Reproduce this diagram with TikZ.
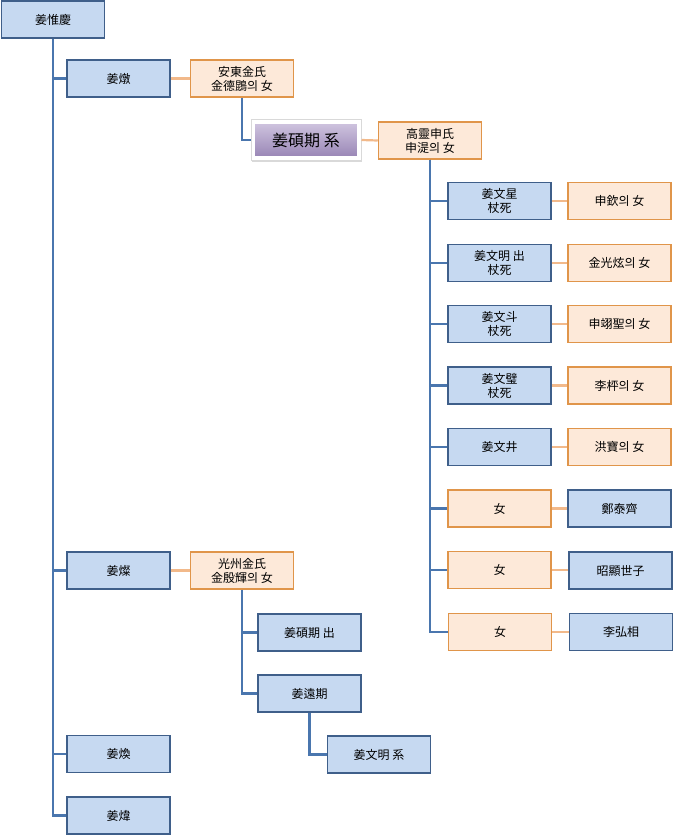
\documentclass[tikz,border=0pt]{standalone}
\usepackage{fontspec}
\setmainfont{Noto Sans CJK KR}
\usetikzlibrary{shadows}
\definecolor{bfill}{HTML}{C6D9F1}
\definecolor{bdraw}{HTML}{3F5F8A}
\definecolor{ofill}{HTML}{FDE9D9}
\definecolor{odraw}{HTML}{E0954A}
\definecolor{bline}{HTML}{4A76AE}
\definecolor{oline}{HTML}{F2B98A}
\definecolor{ptop}{HTML}{CFC4DF}
\definecolor{pmid}{HTML}{BDAED3}
\definecolor{pbot}{HTML}{9885B5}
\begin{document}
\begin{tikzpicture}[x=1pt,y=-1pt,
  box/.style={rectangle, minimum width=103pt, minimum height=37pt, inner sep=1pt, align=center, font=\fontsize{12}{14}\selectfont, line width=1.5pt},
  bbox/.style={box, fill=bfill, draw=bdraw},
  obox/.style={box, fill=ofill, draw=odraw},
  bl/.style={draw=bline, line width=2.2pt},
  ol/.style={draw=oline, line width=2.2pt}]
\useasboundingbox (0,0) rectangle (675,836);
% nodes
\node[bbox] (root) at (53,19.5) {姜惟慶};
\node[bbox] (don) at (118.5,78.5) {姜燉};
\node[obox] (andong) at (242,78.5) {安東金氏\\金德鵾의 女};
\node[rectangle, minimum width=110pt, minimum height=41pt, draw=black!15, line width=1pt,
  fill=white, drop shadow={opacity=0.3, shadow xshift=1pt, shadow yshift=-1.5pt}] (skglow) at (306,140) {};
\node[rectangle, minimum width=104pt, minimum height=35pt, draw=white, line width=2.5pt,
  top color=ptop, middle color=pmid, bottom color=pbot,
  font=\fontsize{16}{18}\selectfont] (sk) at (306,140) {姜碩期 系};
\node[obox] (goryeong) at (430,140.5) {高靈申氏\\申湜의 女};
% children of 姜碩期
\node[bbox] (s1) at (499.5,201) {姜文星\\杖死};
\node[obox] (w1) at (619.5,201) {申欽의 女};
\node[bbox] (s2) at (499.5,263) {姜文明 出\\杖死};
\node[obox] (w2) at (619.5,263) {金光炫의 女};
\node[bbox] (s3) at (499.5,324) {姜文斗\\杖死};
\node[obox] (w3) at (619.5,324) {申翊聖의 女};
\node[bbox] (s4) at (499.5,385.5) {姜文璧\\杖死};
\node[obox] (w4) at (619.5,385.5) {李枰의 女};
\node[bbox] (s5) at (499.5,447) {姜文井};
\node[obox] (w5) at (619.5,447) {洪寶의 女};
\node[obox] (d1) at (499.5,508.5) {女};
\node[bbox] (h1) at (619.5,508.5) {鄭泰齊};
\node[obox] (d2) at (499.5,570) {女};
\node[bbox] (h2) at (620.5,570.5) {昭顯世子};
\node[obox] (d3) at (500,632) {女};
\node[bbox] (h3) at (621,632) {李弘相};
% 姜燦 branch
\node[bbox] (chan) at (118.5,570.5) {姜燦};
\node[obox] (gwangju) at (242,570.5) {光州金氏\\金殷輝의 女};
\node[bbox] (skc) at (309.5,632.5) {姜碩期 出};
\node[bbox] (yw) at (309.5,693.5) {姜遠期};
\node[bbox] (mm) at (379,754.5) {姜文明 系};
\node[bbox] (hwan) at (118.5,754) {姜煥};
\node[bbox] (wi) at (118.5,815.5) {姜煒};
% connectors
\draw[bl] (root.south) |- (don.west);
\draw[bl] (root.south) |- (chan.west);
\draw[bl] (root.south) |- (hwan.west);
\draw[bl] (root.south) |- (wi.west);
\draw[ol] (don.east) -- (andong.west);
\draw[bl] (andong.south) |- (skglow.west);
\draw[ol] (skglow.east) -- (goryeong.west);
\foreach \n in {s1,s2,s3,s4,s5,d1,d2,d3} \draw[bl] (goryeong.south) |- (\n.west);
\foreach \a/\b in {s1/w1,s2/w2,s3/w3,s4/w4,s5/w5,d1/h1,d2/h2,d3/h3} \draw[ol] (\a.east) -- (\a.east -| \b.west);
\draw[ol] (chan.east) -- (gwangju.west);
\draw[bl] (gwangju.south) |- (skc.west);
\draw[bl] (gwangju.south) |- (yw.west);
\draw[bl] (yw.south) |- (mm.west);
\end{tikzpicture}
\end{document}
